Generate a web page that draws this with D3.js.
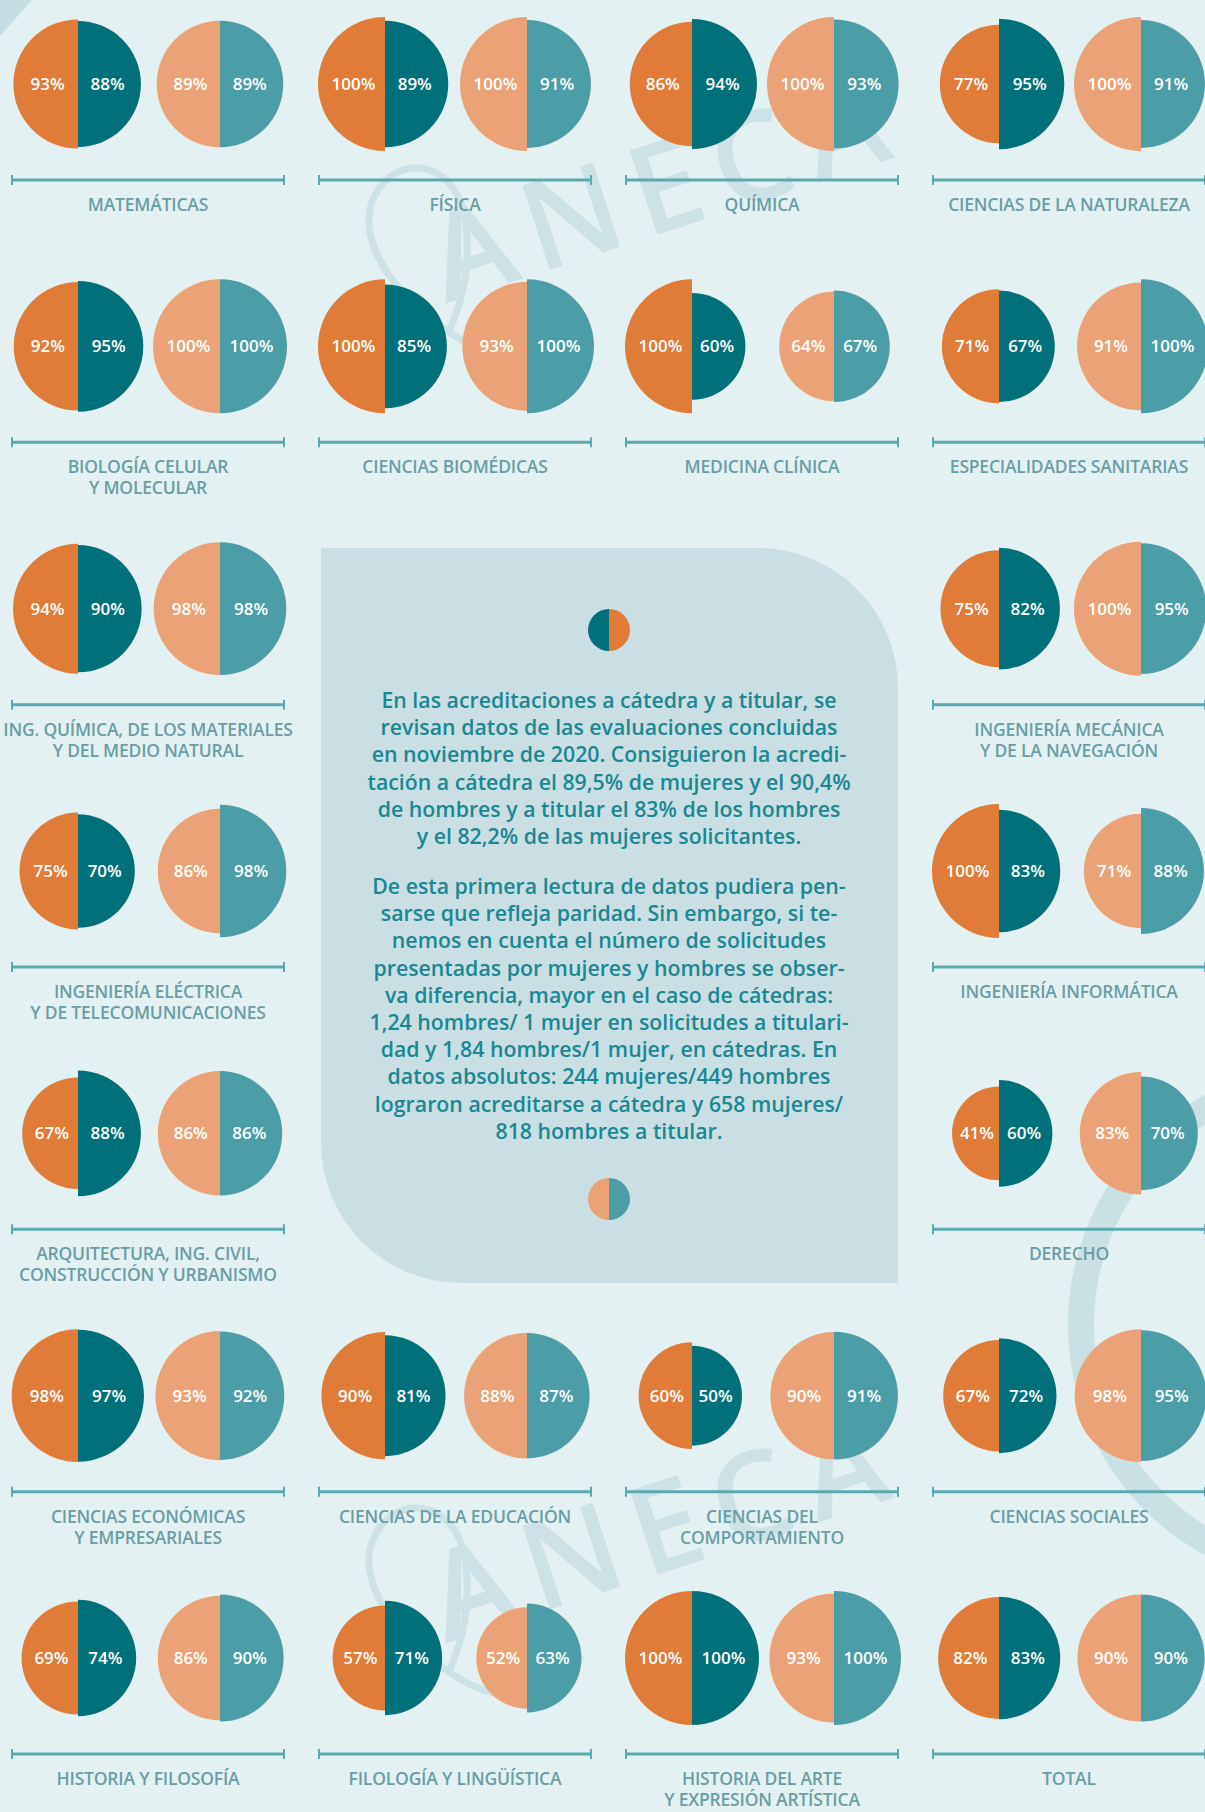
<!DOCTYPE html>
<html>
<head>
<meta charset="utf-8">
<script src="https://cdn.jsdelivr.net/npm/d3@7"></script>
<style>
  body { margin: 0; background: #e4f1f3; }
  svg { display: block; }
</style>
</head>
<body>
<svg id="chart"></svg>
<script>
// areas (line breaks with \n), in reading order
const areas = [
  "MATEMÁTICAS", "FÍSICA", "QUÍMICA", "CIENCIAS DE LA NATURALEZA",
  "BIOLOGÍA CELULAR\nY MOLECULAR", "CIENCIAS BIOMÉDICAS", "MEDICINA CLÍNICA", "ESPECIALIDADES SANITARIAS",
  "ING. QUÍMICA, DE LOS MATERIALES\nY DEL MEDIO NATURAL", "INGENIERÍA MECÁNICA\nY DE LA NAVEGACIÓN",
  "INGENIERÍA ELÉCTRICA\nY DE TELECOMUNICACIONES", "INGENIERÍA INFORMÁTICA",
  "ARQUITECTURA, ING. CIVIL,\nCONSTRUCCIÓN Y URBANISMO", "DERECHO",
  "CIENCIAS ECONÓMICAS\nY EMPRESARIALES", "CIENCIAS DE LA EDUCACIÓN", "CIENCIAS DEL\nCOMPORTAMIENTO", "CIENCIAS SOCIALES",
  "HISTORIA Y FILOSOFÍA", "FILOLOGÍA Y LINGÜÍSTICA", "HISTORIA DEL ARTE\nY EXPRESIÓN ARTÍSTICA", "TOTAL"
];
// % acreditados: cátedra (mujeres / hombres), titular (mujeres / hombres)
const catedraMujeres = [93, 100, 86, 77, 92, 100, 100, 71, 94, 75, 75, 100, 67, 41, 98, 90, 60, 67, 69, 57, 100, 82];
const catedraHombres = [88, 89, 94, 95, 95, 85, 60, 67, 90, 82, 70, 83, 88, 60, 97, 81, 50, 72, 74, 71, 100, 83];
const titularMujeres = [89, 100, 100, 100, 100, 93, 64, 91, 98, 100, 86, 71, 86, 83, 93, 88, 90, 98, 86, 52, 93, 90];
const titularHombres = [89, 91, 93, 91, 100, 100, 67, 100, 98, 95, 98, 88, 86, 70, 92, 87, 91, 95, 90, 63, 100, 90];

const texto1 = [
  "En las acreditaciones a cátedra y a titular, se",
  "revisan datos de las evaluaciones concluidas",
  "en noviembre de 2020. Consiguieron la acredi-",
  "tación a cátedra el 89,5% de mujeres y el 90,4%",
  "de hombres y a titular el 83% de los hombres",
  "y el 82,2% de las mujeres solicitantes."
];
const texto2 = [
  "De esta primera lectura de datos pudiera pen-",
  "sarse que refleja paridad. Sin embargo, si te-",
  "nemos en cuenta el número de solicitudes",
  "presentadas por mujeres y hombres se obser-",
  "va diferencia, mayor en el caso de cátedras:",
  "1,24 hombres/ 1 mujer en solicitudes a titulari-",
  "dad y 1,84 hombres/1 mujer, en cátedras. En",
  "datos absolutos:  244 mujeres/449 hombres",
  "lograron acreditarse a cátedra y 658 mujeres/",
  "818 hombres a titular."
];

// grid slot [row, col] for each area (middle rows only use outer columns)
const slots = [
  [0,0],[0,1],[0,2],[0,3],
  [1,0],[1,1],[1,2],[1,3],
  [2,0],[2,3],
  [3,0],[3,3],
  [4,0],[4,3],
  [5,0],[5,1],[5,2],[5,3],
  [6,0],[6,1],[6,2],[6,3]
];

const width = 1205, height = 1812;
const colors = {
  catM: "#e07b38", catH: "#00717b", titM: "#eaa276", titH: "#4b9ea7",
  bracket: "#5aa9b1", label: "#6a9ea5", box: "#c9dfe3", boxText: "#1b8793", mark: "#c4dde2"
};

const svg = d3.select("#chart").attr("width", width).attr("height", height);
svg.append("rect").attr("width", width).attr("height", height).attr("fill", "#e4f1f3");

// scales
const colX = d3.scaleLinear().domain([0, 3]).range([12, 933]);   // left end of group bracket
const rowY = d3.scaleLinear().domain([0, 6]).range([84, 1658]);  // pie centre line
const r = d3.scaleLinear().domain([0, 100]).range([33, 67]);
const groupW = 272;

// ---- background decoration ----
svg.append("path")
  .attr("d", "M0,0 L32,0 L0,36 Z")
  .attr("fill", colors.mark);

svg.append("path")
  .attr("transform", "translate(1330,1325)")
  .attr("d", d3.arc()({innerRadius: 236, outerRadius: 262, startAngle: Math.PI * 1.05, endAngle: Math.PI * 1.95}))
  .attr("fill", colors.mark).attr("opacity", 0.85);

function watermark(cx, cy) {
  let g = svg.append("g")
    .attr("transform", "translate(" + cx + "," + cy + ") rotate(-18)")
    .attr("opacity", 0.75);
  g.append("text")
    .attr("text-anchor", "middle")
    .attr("y", 42)
    .attr("font-family", "Open Sans, sans-serif")
    .attr("font-size", 124)
    .attr("font-weight", 600)
    .attr("letter-spacing", 16)
    .attr("fill", colors.mark)
    .text("ANECA");
  // pin-like outline of the logo
  g.append("path")
    .attr("d", "M-250,70 C-300,5 -310,-60 -272,-88 C-235,-115 -190,-85 -200,-30 C-208,15 -228,45 -250,70 Z M-250,70 C-210,125 -140,135 -120,95")
    .attr("fill", "none")
    .attr("stroke", colors.mark)
    .attr("stroke-width", 7);
}
watermark(665, 188);
watermark(665, 1528);

// ---- central text box ----
const bx0 = 321, by0 = 548, bx1 = 898, by1 = 1283, br = 140;
let boxPath = d3.path();
boxPath.moveTo(bx0, by0);
boxPath.lineTo(bx1 - br, by0);
boxPath.arcTo(bx1, by0, bx1, by0 + br, br);
boxPath.lineTo(bx1, by1);
boxPath.lineTo(bx0 + br, by1);
boxPath.arcTo(bx0, by1, bx0, by1 - br, br);
boxPath.closePath();
svg.append("path").attr("d", boxPath.toString()).attr("fill", colors.box);

const cx = 609;
function halfPair(y, rad, leftColor, rightColor) {
  svg.append("path").attr("transform", "translate(" + cx + "," + y + ")")
    .attr("d", d3.arc()({innerRadius: 0, outerRadius: rad, startAngle: Math.PI, endAngle: 2 * Math.PI}))
    .attr("fill", leftColor);
  svg.append("path").attr("transform", "translate(" + cx + "," + y + ")")
    .attr("d", d3.arc()({innerRadius: 0, outerRadius: rad, startAngle: 0, endAngle: Math.PI}))
    .attr("fill", rightColor);
}
halfPair(630, 21, colors.catH, colors.catM);
halfPair(1199, 21, colors.titM, colors.titH);

function paragraph(lines, y0) {
  svg.append("text")
    .attr("text-anchor", "middle")
    .attr("font-family", "Open Sans, sans-serif")
    .attr("font-size", 21.3)
    .attr("font-weight", 600)
    .attr("fill", colors.boxText)
    .selectAll("tspan")
    .data(lines)
    .join("tspan")
      .attr("x", cx)
      .attr("y", (d, i) => y0 + i * 27.2)
      .text(d => d);
}
paragraph(texto1, 708);
paragraph(texto2, 894);

// ---- area groups ----
const groups = svg.selectAll("g.area")
  .data(areas.map((name, i) => ({
    name: name,
    row: slots[i][0], col: slots[i][1],
    values: [catedraMujeres[i], catedraHombres[i], titularMujeres[i], titularHombres[i]]
  })))
  .join("g")
    .attr("class", "area")
    .attr("transform", d => "translate(" + colX(d.col) + "," + rowY(d.row) + ")");

const pieDefs = [
  {idx: 0, split: 66,  side: -1, color: colors.catM},
  {idx: 1, split: 66,  side:  1, color: colors.catH},
  {idx: 2, split: 208, side: -1, color: colors.titM},
  {idx: 3, split: 208, side:  1, color: colors.titH}
];

pieDefs.forEach(p => {
  groups.append("path")
    .attr("transform", "translate(" + p.split + ",0)")
    .attr("d", d => d3.arc()({
      innerRadius: 0,
      outerRadius: r(d.values[p.idx]),
      startAngle: p.side < 0 ? Math.PI : 0,
      endAngle: p.side < 0 ? 2 * Math.PI : Math.PI
    }))
    .attr("fill", p.color);
  groups.append("text")
    .attr("x", d => p.split + p.side * r(d.values[p.idx]) * 0.47)
    .attr("y", 0)
    .attr("dy", "0.36em")
    .attr("text-anchor", "middle")
    .attr("font-family", "Open Sans, sans-serif")
    .attr("font-size", 17)
    .attr("font-weight", 600)
    .attr("fill", "#ffffff")
    .text(d => d.values[p.idx] + "%");
});

// brackets
const by = 96;
groups.append("line")
  .attr("x1", 0).attr("x2", groupW).attr("y1", by).attr("y2", by)
  .attr("stroke", colors.bracket).attr("stroke-width", 3);
[0, groupW].forEach(x => {
  groups.append("line")
    .attr("x1", x).attr("x2", x).attr("y1", by - 5).attr("y2", by + 5)
    .attr("stroke", colors.bracket).attr("stroke-width", 2);
});

// labels
groups.append("text")
  .attr("text-anchor", "middle")
  .attr("font-family", "Open Sans, sans-serif")
  .attr("font-size", 17.5)
  .attr("font-weight", 600)
  .attr("letter-spacing", -0.2)
  .attr("fill", colors.label)
  .selectAll("tspan")
  .data(d => d.name.split("\n"))
  .join("tspan")
    .attr("x", groupW / 2)
    .attr("y", (d, i) => by + 31 + i * 21)
    .text(d => d);
</script>
</body>
</html>
